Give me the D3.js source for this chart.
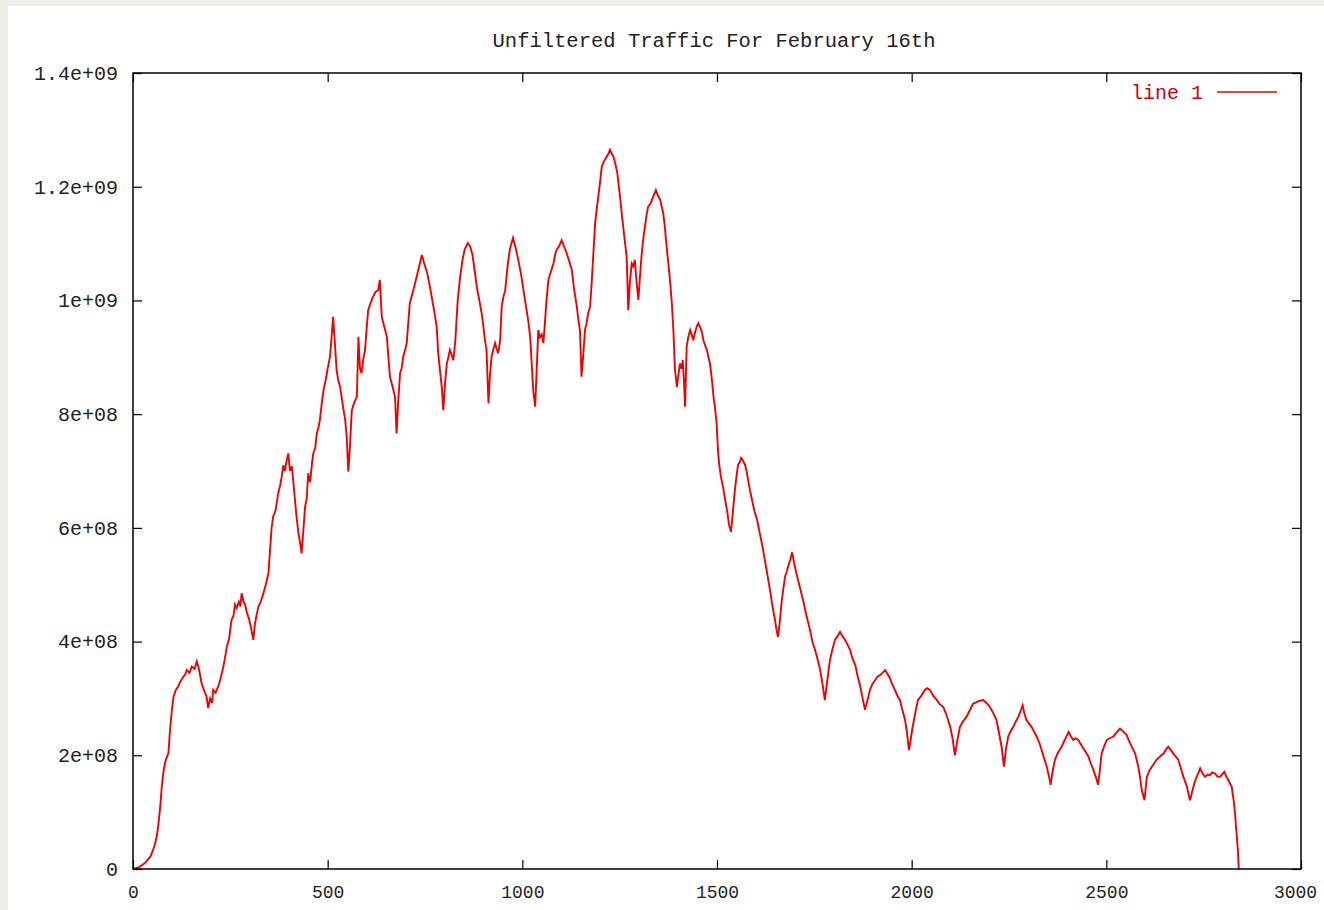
<!DOCTYPE html>
<html>
<head>
<meta charset="utf-8">
<script src="https://cdn.jsdelivr.net/npm/d3@7/dist/d3.min.js"></script>
<style>
  html, body { margin: 0; padding: 0; background: #eeede7; }
  svg { display: block; }
  .lbl { font-family: "Liberation Mono", "DejaVu Sans Mono", monospace; font-size: 20px; fill: #222; }
</style>
</head>
<body>
<svg id="chart" width="1324" height="910"></svg>
<script>
// Sample index (x) and traffic volume in millions (y) for "line 1"
const sampleIndex = [
  0,15,30,45,55,61,65,70,74,78,82,86,91,95,100,104,110,116,122,129,134,138,145,151,158,164,170,176,182,189,
  193,198,203,206,212,219,225,232,236,241,247,253,258,262,266,272,276,279,284,288,292,298,303,309,313,317,322,328,335,341,
  348,352,356,360,366,373,378,382,386,390,395,399,403,408,412,416,420,425,429,433,437,442,446,450,455,460,463,468,472,476,
  480,485,490,495,500,506,510,514,518,523,527,532,538,545,549,553,557,562,568,575,579,583,587,591,596,600,604,610,617,623,
  630,634,639,645,652,656,660,666,673,677,681,686,690,694,698,703,707,711,715,720,728,735,742,748,755,761,767,774,780,784,
  788,793,797,801,806,810,814,818,823,828,834,840,846,852,860,866,872,878,884,891,896,900,904,908,913,917,921,926,930,934,
  938,943,947,951,956,962,968,976,982,990,997,1003,1007,1011,1016,1020,1024,1028,1033,1037,1041,1045,1050,1054,1058,1062,1067,1073,1080,1084,
  1088,1094,1101,1107,1114,1120,1127,1133,1140,1144,1148,1152,1156,1161,1165,1169,1174,1178,1182,1187,1191,1195,1200,1204,1210,1217,1221,1225,1230,1234,
  1239,1244,1247,1251,1255,1259,1264,1268,1272,1276,1281,1285,1289,1293,1298,1302,1306,1310,1315,1319,1323,1329,1336,1343,1348,1354,1358,1362,1366,1369,
  1372,1375,1380,1384,1388,1392,1397,1401,1405,1409,1412,1415,1418,1422,1426,1431,1435,1439,1444,1448,1452,1456,1461,1465,1470,1474,1478,1482,1487,1491,
  1495,1499,1503,1506,1510,1516,1521,1526,1531,1536,1541,1546,1550,1554,1558,1562,1567,1572,1576,1580,1585,1590,1596,1603,1610,1616,1623,1630,1636,1643,
  1649,1653,1657,1662,1666,1670,1675,1680,1684,1688,1693,1699,1705,1713,1721,1730,1739,1745,1752,1758,1765,1771,1777,1783,1790,1796,1803,1810,1816,1822,
  1829,1835,1842,1848,1855,1861,1867,1874,1880,1886,1893,1899,1906,1912,1919,1925,1932,1938,1944,1950,1957,1963,1970,1976,1983,1988,1993,1997,2001,2008,
  2016,2025,2034,2040,2047,2055,2064,2072,2081,2090,2099,2105,2111,2117,2124,2132,2141,2150,2158,2166,2175,2184,2192,2201,2209,2218,2224,2231,2237,2242,
  2248,2254,2261,2268,2274,2280,2285,2290,2295,2301,2308,2314,2321,2328,2334,2340,2347,2352,2357,2362,2368,2376,2385,2394,2403,2409,2415,2421,2428,2434,
  2441,2448,2454,2460,2467,2473,2479,2484,2488,2494,2501,2509,2518,2526,2535,2543,2552,2561,2567,2574,2582,2587,2591,2598,2604,2610,2617,2623,2629,2638,
  2647,2653,2659,2665,2672,2678,2685,2691,2698,2707,2711,2715,2720,2724,2728,2732,2737,2741,2747,2754,2760,2766,2772,2779,2785,2792,2798,2803,2808,2813,
  2818,2822,2825,2828,2831,2833,2836,2838,2840,2841
];
const trafficMillions = [
  0,3,10,22,40,57,77,110,145,170,186,195,204,244,280,303,315,321,330,338,342,350,345,356,352,365,350,327,315,303,
  283,300,292,315,310,321,335,356,370,391,405,438,445,465,459,470,462,485,470,465,452,440,425,403,430,445,461,470,485,500,
  520,561,600,620,630,661,675,690,710,700,720,731,700,708,680,649,620,590,575,555,590,637,650,696,680,715,731,740,766,775,
  790,820,845,860,880,901,935,971,930,878,860,848,820,790,760,699,740,807,820,831,936,880,872,895,913,950,983,995,1007,1015,
  1018,1036,971,955,936,900,866,850,831,766,820,872,880,901,910,925,960,995,1005,1018,1040,1060,1080,1065,1050,1030,1007,980,954,907,
  880,848,807,850,889,900,913,905,895,930,1000,1040,1070,1090,1101,1095,1080,1050,1020,995,975,954,930,913,819,870,901,915,925,915,
  907,930,989,1005,1018,1060,1090,1110,1095,1070,1045,1018,1000,983,960,936,890,842,813,880,948,935,940,925,960,1000,1036,1050,1065,1080,
  1089,1095,1106,1095,1083,1070,1054,1020,989,965,948,866,900,948,960,977,989,1030,1077,1136,1160,1182,1210,1235,1245,1253,1258,1265,1258,1253,
  1240,1224,1205,1182,1155,1130,1100,1077,983,1030,1065,1060,1071,1036,1001,1040,1077,1105,1130,1150,1165,1170,1182,1194,1185,1177,1165,1153,1130,1106,
  1085,1065,1030,995,948,878,848,870,889,880,895,860,813,919,935,948,940,930,945,954,960,954,945,930,920,913,900,889,860,831,
  810,784,731,710,690,670,649,630,605,593,630,667,690,711,715,723,718,711,700,684,665,649,630,614,590,570,543,515,491,460,
  438,420,408,440,470,491,515,525,535,543,557,535,517,495,473,445,420,400,385,370,350,325,297,330,367,385,403,410,417,410,
  403,395,385,370,359,340,324,300,280,295,315,325,332,338,341,345,350,343,336,325,315,305,297,280,262,240,209,225,244,270,
  297,305,315,318,315,305,298,290,285,270,250,230,200,225,250,260,268,280,291,293,296,297,292,285,275,262,240,215,180,210,
  233,242,250,260,268,278,288,272,262,256,250,242,233,222,209,195,180,165,148,172,192,205,215,228,241,233,227,230,227,220,
  212,205,198,186,174,162,148,178,203,215,227,230,233,240,247,242,236,221,213,203,180,160,139,121,162,172,180,186,192,198,
  203,210,215,210,203,198,192,178,162,145,132,121,135,145,155,162,170,177,168,162,166,165,170,168,163,162,167,171,163,157,
  150,145,130,116,95,74,50,33,1,0
];

// Axis ticks as gnuplot prints them
const xTickValues = [0, 500, 1000, 1500, 2000, 2500, 3000];
const yTickValues = [0, 2e8, 4e8, 6e8, 8e8, 1e9, 1.2e9, 1.4e9];
const yTickLabels = ["0", "2e+08", "4e+08", "6e+08", "8e+08", "1e+09", "1.2e+09", "1.4e+09"];

const titleText = "Unfiltered Traffic For February 16th";
const seriesName = "line 1";

const svg = d3.select("#chart");
const W = 1324, H = 910;
const box = { left: 133, top: 73, right: 1301, bottom: 869 };

// Light page margin on the top and left, white canvas elsewhere
svg.append("rect").attr("x", 0).attr("y", 0).attr("width", W).attr("height", H).attr("fill", "#eeede7");
svg.append("rect").attr("x", 8).attr("y", 6).attr("width", W - 8).attr("height", H - 6).attr("fill", "#ffffff");

const x = d3.scaleLinear().domain([0, 3000]).range([box.left, box.right]);
const y = d3.scaleLinear().domain([0, 1.4e9]).range([box.bottom, box.top]);

const points = sampleIndex.map((d, i) => [d, trafficMillions[i] * 1e6]);

// Data line
const line = d3.line().x(d => x(d[0])).y(d => y(d[1]));
svg.append("path")
  .datum(points)
  .attr("fill", "none")
  .attr("stroke", "#f00000")
  .attr("stroke-width", 1.9)
  .attr("stroke-linejoin", "miter")
  .attr("d", line);

// Axes: ticks point inward on all four sides
const tickLen = 9;
const styleAxis = g => {
  g.select(".domain").remove();
  g.selectAll(".tick line").attr("stroke", "#000").attr("stroke-width", 1.2);
  g.selectAll(".tick text").attr("class", "lbl").attr("fill", null);
};

const xAxisG = svg.append("g")
  .attr("transform", `translate(0,${box.bottom})`)
  .call(d3.axisBottom(x).tickValues(xTickValues).tickFormat(d3.format("d")).tickSize(-tickLen).tickPadding(16))
  .call(styleAxis);
xAxisG.selectAll(".tick text").style("font-size", "18px");
// keep the last label inside the canvas
xAxisG.selectAll(".tick text").filter(d => d === 3000).attr("x", -6);

svg.append("g")
  .attr("transform", `translate(0,${box.top})`)
  .call(d3.axisTop(x).tickValues(xTickValues).tickFormat("").tickSize(-tickLen))
  .call(styleAxis);

svg.append("g")
  .attr("transform", `translate(${box.left},0)`)
  .call(d3.axisLeft(y).tickValues(yTickValues).tickFormat((d, i) => yTickLabels[i]).tickSize(-tickLen).tickPadding(15))
  .call(styleAxis);

svg.append("g")
  .attr("transform", `translate(${box.right},0)`)
  .call(d3.axisRight(y).tickValues(yTickValues).tickFormat("").tickSize(-tickLen))
  .call(styleAxis);

// Frame
svg.append("rect")
  .attr("x", box.left).attr("y", box.top)
  .attr("width", box.right - box.left).attr("height", box.bottom - box.top)
  .attr("fill", "none").attr("stroke", "#000").attr("stroke-width", 1.5);

// Title
svg.append("text")
  .attr("class", "lbl")
  .attr("x", 714).attr("y", 47)
  .attr("text-anchor", "middle")
  .style("font-size", "20.5px")
  .text(titleText);

// Key
svg.append("text")
  .attr("class", "lbl")
  .attr("x", 1203).attr("y", 99)
  .attr("text-anchor", "end")
  .style("fill", "#d00010")
  .text(seriesName);
svg.append("line")
  .attr("x1", 1217).attr("x2", 1277).attr("y1", 92).attr("y2", 92)
  .attr("stroke", "#f00000").attr("stroke-width", 1.6);
</script>
</body>
</html>
